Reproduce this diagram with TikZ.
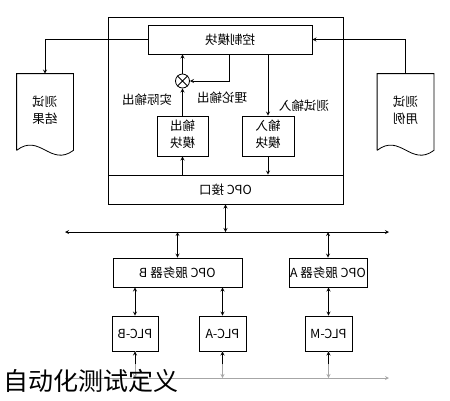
\documentclass[tikz,border=0pt]{standalone}
\usepackage{fontspec}
\setmainfont{Noto Sans CJK SC}
\usepackage{graphicx}
\usepackage{tikz}
\usetikzlibrary{arrows.meta}
\usetikzlibrary{positioning}

\newcommand{\flip}[1]{\scalebox{-1}[1]{#1}}
\newcommand{\duo}[2]{\flip{\begin{tabular}{@{}c@{}}#1\\[2pt]#2\end{tabular}}}

\begin{document}
\begin{tikzpicture}[
      >=stealth,
      x=1pt, y=-1pt,
      line width=0.8pt,
      lbl/.style={font=\fontsize{12.5}{14}\selectfont, inner sep=1pt},
      blk/.style={draw, lbl, inner sep=0pt},
      doc/.style={lbl, inner sep=0pt, minimum width=56, minimum height=76},
      sumnode/.style={draw, circle, inner sep=0pt, minimum size=14}
    ]
    \useasboundingbox (0,0) rectangle (450,400);

    % Sistema e moduli interni
    \node[draw, minimum width=235, minimum height=187, inner sep=0pt] (sys) at (225.5,110.5) {};
    \node[blk, minimum width=235, minimum height=29] (opc) at (225.5,189.5) {\flip{OPC 接口}};
    \node[blk, minimum width=164, minimum height=29] (ctrl) at (230,39.5) {\flip{控制模块}};
    \node[blk, minimum width=51, minimum height=40] (outm) at (182.5,136) {\duo{输出}{模块}};
    \node[blk, minimum width=52, minimum height=40] (inm) at (268,136) {\duo{输入}{模块}};
    \node[sumnode] (sum) at (182.5,81) {};
    \draw (sum.north east) -- (sum.south west) (sum.north west) -- (sum.south east);
    \coordinate (tho) at (229,81);

    % Documenti
    \node[doc] (res) at (45,112) {\duo{测试}{结果}};
    \node[doc] (cas) at (405.5,112) {\duo{测试}{用例}};
    \foreach \d in {res,cas}
      \draw (\d.south west) -- (\d.north west) -- (\d.north east) -- (\d.south east)
        .. controls +(-23,17) and +(23,-18) .. (\d.south west);

    % Collegamenti interni
    \draw[->] (ctrl.west) -| (res.north);
    \draw[->] (cas.north) |- (ctrl.east);
    \draw[->] (sum.north) -- (ctrl.south -| sum.north);
    \draw[->] (ctrl.south -| tho) |- (sum.east);
    \draw[->] (outm.north) -- (sum.south);
    \draw[->] (opc.north -| outm.south) -- (outm.south);
    \draw[->] (ctrl.south -| inm.north) -- (inm.north);
    \draw[->] (inm.south) -- (opc.north -| inm.south);
    \node[lbl] (lact) at (147,100) {\flip{实际输出}};
    \node[lbl] (lthe) at (222,98) {\flip{理论输出}};
    \node[lbl] (lin) at (304,106) {\flip{测试输入}};

    % Bus e server OPC
    \coordinate (busL) at (65,232);
    \coordinate (busR) at (389,232);
    \draw[<->] (busL) -- (busR);
    \draw[<->] (opc.south) -- (opc.south |- busL);
    \node[blk, minimum width=129, minimum height=29] (srvB) at (177.5,272.5) {\flip{OPC 服务器 B}};
    \node[blk, minimum width=78, minimum height=29] (srvA) at (328,272.5) {\flip{OPC 服务器 A}};
    \draw[<->] (srvB.north |- busL) -- (srvB.north);
    \draw[<->] (srvA.north |- busL) -- (srvA.north);

    % PLC
    \node[blk, minimum width=46, minimum height=35] (plcB) at (135,333.5) {\flip{PLC-B}};
    \node[blk, minimum width=47, minimum height=35] (plcA) at (222.5,333.5) {\flip{PLC-A}};
    \node[blk, minimum width=47, minimum height=35] (plcM) at (328.5,333.5) {\flip{PLC-M}};
    \draw[<->] (srvB.south -| plcB.north) -- (plcB.north);
    \draw[<->] (srvB.south -| plcA.north) -- (plcA.north);
    \draw[<->] (srvA.south -| plcM.north) -- (plcM.north);

    % Bus di campo (grigio)
    \coordinate (fbL) at (65,378);
    \coordinate (fbR) at (389,378);
    \draw[->, gray!70] (fbL) -- (fbR);
    \foreach \p in {plcB,plcA,plcM} {
      \draw[->, gray!70] (\p.south) -- (\p.south |- fbL);
      \draw[->] (\p.south) ++(0,13) coordinate (\p-m) (\p-m) -- (\p.south);
    }

    % Didascalia
    \node[anchor=west, inner sep=0pt, font=\fontsize{25}{27}\selectfont] (cap) at (3,381) {自动化测试定义};
  \end{tikzpicture}
\end{document}
